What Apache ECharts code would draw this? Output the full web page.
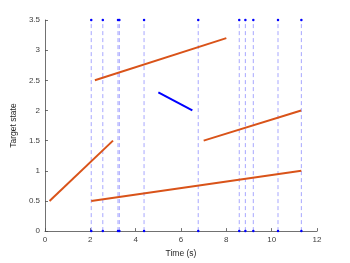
<!DOCTYPE html>
<html>
<head>
<meta charset="utf-8">
<script src="https://cdn.jsdelivr.net/npm/echarts@6/dist/echarts.min.js"></script>
<style>html,body{margin:0;padding:0;background:#fff}#c{width:350px;height:263px}</style>
</head>
<body>
<div id="c"></div>
<script>
var eventTimes = [2.04, 2.55, 3.22, 3.28, 4.37, 6.76, 8.57, 8.84, 9.19, 10.28, 11.31];
var orangeSegments = [
  [[0.2, 0.5], [3.0, 1.5]],
  [[2.04, 0.5], [11.31, 1.0]],
  [[2.2, 2.5], [8.0, 3.2]],
  [[7.0, 1.5], [11.3, 2.0]]
];
var blueSegment = [[5.0, 2.3], [6.5, 2.0]];
var xTicks = {min: 0, max: 12, interval: 2};
var yTicks = {min: 0, max: 3.5, interval: 0.5};

var chart = echarts.init(document.getElementById('c'), null, {renderer: 'canvas'});
var series = [];
eventTimes.forEach(function (t) {
  series.push({
    type: 'line', data: [[t, 0], [t, 3.5]], symbol: 'circle', symbolSize: 2.5,
    showSymbol: true, silent: true, z: 1,
    itemStyle: {color: '#0000ff'},
    lineStyle: {color: 'rgba(80,80,255,0.5)', width: 1, type: [4, 3]}
  });
});
orangeSegments.forEach(function (s) {
  series.push({
    type: 'line', data: s, symbol: 'none', silent: true, z: 3,
    lineStyle: {color: '#D95319', width: 2}
  });
});
series.push({
  type: 'line', data: blueSegment, symbol: 'none', silent: true, z: 3,
  lineStyle: {color: '#0000ff', width: 2}
});
var axisCommon = {
  axisLine: {show: true, lineStyle: {color: '#4d4d4d', width: 0.8}},
  axisTick: {show: true, inside: true, length: 3, lineStyle: {color: '#4d4d4d', width: 0.8}},
  axisLabel: {color: '#404040', fontSize: 8, fontFamily: 'Liberation Sans, Arial, sans-serif', margin: 5},
  splitLine: {show: false},
  nameTextStyle: {color: '#262626', fontSize: 8.5, fontFamily: 'Liberation Sans, Arial, sans-serif'}
};
chart.setOption({
  animation: false,
  backgroundColor: '#fff',
  grid: {left: 45, right: 33, top: 20, bottom: 29},
  xAxis: Object.assign({
    type: 'value', min: xTicks.min, max: xTicks.max, interval: xTicks.interval,
    name: 'Time (s)', nameLocation: 'middle', nameGap: 16
  }, axisCommon),
  yAxis: Object.assign({
    type: 'value', min: yTicks.min, max: yTicks.max, interval: yTicks.interval,
    name: 'Target state', nameLocation: 'middle', nameGap: 19
  }, axisCommon),
  series: series
});
</script>
</body>
</html>
